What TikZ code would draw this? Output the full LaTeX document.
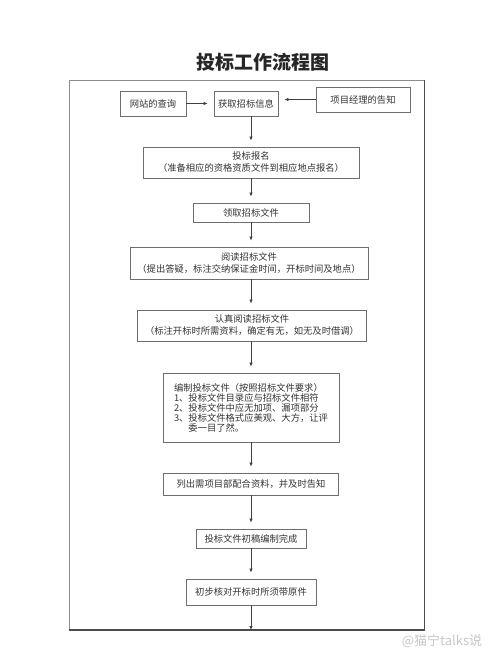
\documentclass[tikz,border=0pt]{standalone}
\usepackage{fontspec}
\setmainfont{Noto Sans CJK SC}
\newfontfamily\cjk{Noto Sans CJK SC}
\usetikzlibrary{arrows.meta}
\definecolor{boxline}{HTML}{6E6E6E}
\definecolor{txt}{HTML}{333333}
\tikzset{
  x=1pt,y=-1pt,
  flowbox/.style={draw=boxline, line width=0.8pt, text=txt, inner sep=0pt, align=center,
     font=\cjk\fontsize{9.3}{12}\selectfont},
  arr/.style={draw=black!75, line width=0.7pt, -{Latex[length=4pt,width=3.6pt]}, shorten >=6pt},
  arrnear/.style={draw=black!75, line width=0.7pt, -{Latex[length=4pt,width=3.6pt]}},
}
\begin{document}
\begin{tikzpicture}
\fill[white] (0,0) rectangle (500,667);
\useasboundingbox (0,0) rectangle (500,667);
% title
\node[font=\cjk\bfseries\fontsize{19}{22}\selectfont, text=black!85] (title) at (263,62) {投标工作流程图};
% frame
\coordinate (ftl) at (69,80);
\coordinate (ftr) at (424.5,80);
\coordinate (fbl) at (69,630);
\coordinate (fbr) at (424.5,630);
\draw[draw=black!45, line width=0.8pt] (fbl) -- (ftl) -- (ftr);
\draw[draw=black!70, line width=1.4pt] (ftr) -- (fbr) -- (fbl);
% boxes
\node[flowbox, minimum width=66pt, minimum height=25pt] (web) at (153,103.5) {网站的查询};
\node[flowbox, minimum width=64pt, minimum height=25pt] (get) at (246,103.5) {获取招标信息};
\node[flowbox, minimum width=94pt, minimum height=25pt] (pm) at (363,99.5) {项目经理的告知};
\node[flowbox, minimum width=216pt, minimum height=31pt] (apply) at (251,162.5) {投标报名\\（准备相应的资格资质文件到相应地点报名）};
\node[flowbox, minimum width=116pt, minimum height=19pt] (take) at (251,212.5) {领取招标文件};
\node[flowbox, minimum width=238pt, minimum height=32pt] (read) at (249,263) {阅读招标文件\\（提出答疑，标注交纳保证金时间，开标时间及地点）};
\node[flowbox, minimum width=229pt, minimum height=31pt] (read2) at (252,325.5) {认真阅读招标文件\\（标注开标时所需资料，确定有无，如无及时借调）};
\node[flowbox, minimum width=176pt, minimum height=69pt, align=left, font=\cjk\fontsize{9.3}{10}\selectfont] (compile) at (251,407.5) {编制投标文件（按照招标文件要求）\\1、投标文件目录应与招标文件相符\\2、投标文件中应无加项、漏项部分\\3、投标文件格式应美观、大方，让评\\\phantom{3、}委一目了然。};
\node[flowbox, minimum width=175pt, minimum height=22pt] (list) at (251,484) {列出需项目部配合资料，并及时告知};
\node[flowbox, minimum width=110pt, minimum height=19pt] (draft) at (251,538.5) {投标文件初稿编制完成};
\node[flowbox, minimum width=130pt, minimum height=26pt] (check) at (251,592) {初步核对开标时所须带原件};
\coordinate (bot) at (251,630);
% connectors
\draw[arr] (web.east) -- (get.west);
\draw[arr] (pm.west) -- (get.east |- pm.west);
\draw[arr] (get.south -| apply.north) -- (apply.north);
\draw[arr] (apply) -- (take);
\draw[arr] (take.south) -- (take.south |- read.north);
\draw[arr] (read.south -| take.south) -- (take.south |- read2.north);
\draw[arr] (read2.south -| take.south) -- (compile.north);
\draw[arr] (compile) -- (list);
\draw[arr] (list) -- (draft);
\draw[arr] (draft) -- (check);
\draw[arrnear] (check) -- (bot);
% watermark
\node[font=\cjk\fontsize{13}{15}\selectfont, text=black!22] (wm) at (442,641) {@猫宁talks说};
\end{tikzpicture}
\end{document}
